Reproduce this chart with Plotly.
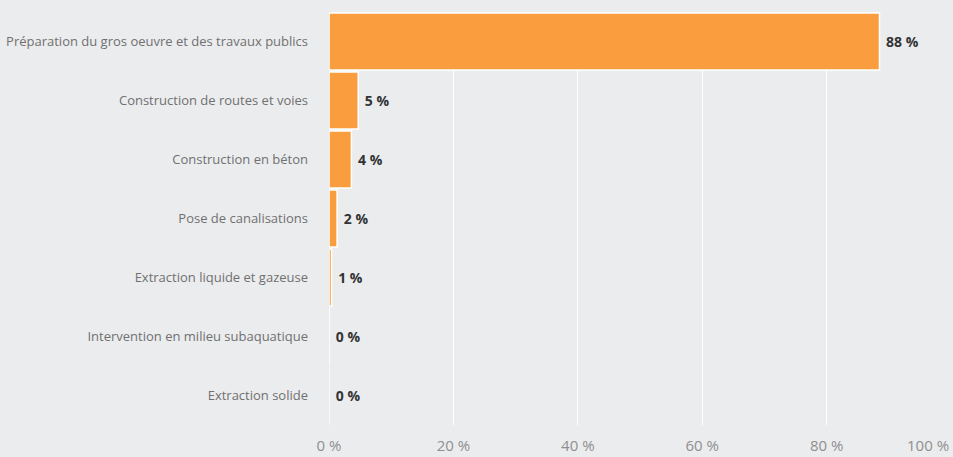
import plotly.graph_objects as go

categories = [
    "Préparation du gros oeuvre et des travaux publics",
    "Construction de routes et voies",
    "Construction en béton",
    "Pose de canalisations",
    "Extraction liquide et gazeuse",
    "Intervention en milieu subaquatique",
    "Extraction solide",
]
values = [88.5, 4.7, 3.6, 1.3, 0.4, 0.03, 0.02]
value_labels = ["88 %", "5 %", "4 %", "2 %", "1 %", "0 %", "0 %"]
x_ticks = [0, 20, 40, 60, 80, 100]
x_tick_labels = ["0 %", "20 %", "40 %", "60 %", "80 %", ""]

BG = "#EBECEE"
ORANGE = "#F99D3E"

fig = go.Figure()
fig.add_trace(go.Bar(
    y=categories,
    x=values,
    orientation="h",
    marker=dict(color=ORANGE, line=dict(color="white", width=1.5)),
    text=value_labels,
    texttemplate=" %{text}",
    textposition="outside",
    cliponaxis=False,
    textfont=dict(family="Open Sans", size=14, color="#333333", weight="bold"),
    hoverinfo="skip",
))

fig.update_layout(
    width=953, height=457,
    margin=dict(l=329, r=2, t=12, b=28),
    paper_bgcolor=BG, plot_bgcolor=BG,
    bargap=0.03,
    showlegend=False,
    font=dict(family="Open Sans", color="#666666"),
    uniformtext=dict(minsize=14, mode="show"),
)
fig.update_xaxes(
    range=[0, 100],
    tickvals=x_ticks,
    ticktext=x_tick_labels,
    showgrid=True, gridcolor="white", gridwidth=1,
    zeroline=True, zerolinecolor="#CCD6EB", zerolinewidth=1,
    tickfont=dict(size=15, color="#8F8F8F"),
    ticklabelstandoff=10,
    showline=False,
    fixedrange=True,
)
fig.update_yaxes(
    autorange="reversed",
    tickfont=dict(size=13, color="#707070"),
    ticklabelstandoff=20,
    showgrid=False,
    showline=False,
    fixedrange=True,
)
fig.add_annotation(
    x=100, y=0, xref="x", yref="paper",
    text="100 %", showarrow=False,
    xanchor="right", yanchor="top", yshift=-8,
    font=dict(family="Open Sans", size=15, color="#8F8F8F"),
)

fig.write_html(
    "out.html",
    config={"displayModeBar": False},
    post_script="document.body.style.margin='0';document.body.style.background='%s';" % BG,
)
